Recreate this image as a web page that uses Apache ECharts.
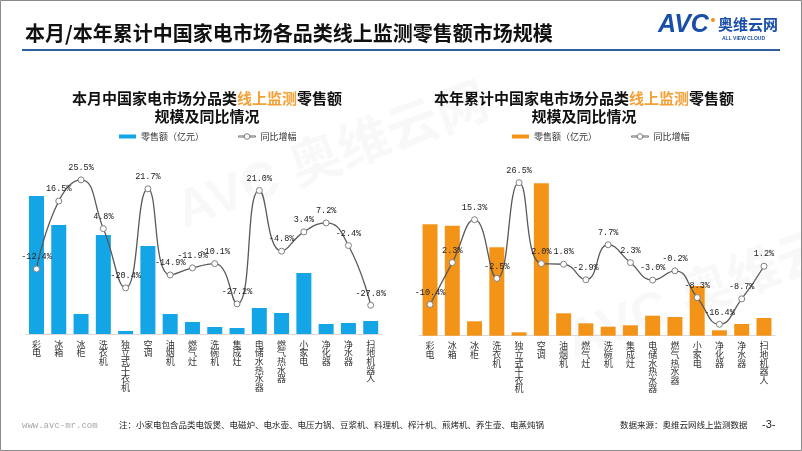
<!DOCTYPE html>
<html><head><meta charset="utf-8">
<script src="https://cdn.jsdelivr.net/npm/echarts@6/dist/echarts.min.js"></script>
<style>html,body{margin:0;padding:0;background:#fff}#c{width:802px;height:451px}</style>
</head><body><div id="c"></div>
<script>
const categories = ['彩电','冰箱','冰柜','洗衣机','独立式干衣机','空调','油烟机','燃气灶','洗碗机','集成灶','电储水热水器','燃气热水器','小家电','净化器','净水器','扫地机器人'];
const monthSales = [69, 54.5, 10, 49.5, 1.5, 44, 10, 6, 3.5, 3, 13, 10.5, 30.5, 5, 5.5, 6.5];
const monthYoY = [-12.4, 16.5, 25.5, 4.8, -20.4, 21.7, -14.9, -11.9, -10.1, -27.2, 21.0, -4.8, 3.4, 7.2, -2.4, -27.8];
const ytdSales = [222.8, 220, 28.8, 176.8, 6.8, 304.8, 44.8, 24.8, 18, 20.8, 40, 37.4, 99.4, 10.8, 23.4, 35.4];
const ytdYoY = [-10.4, 2.3, 15.3, -2.5, 26.5, 2.0, 1.8, -2.9, 7.7, 2.3, -3.0, -0.2, -8.3, -16.4, -8.7, 1.2];
const salesName = '零售额（亿元）';
const yoyName = '同比增幅';

const chart = echarts.init(document.getElementById('c'), null, {renderer:'canvas'});
const CJK = '"Noto Sans CJK SC", "Noto Sans", sans-serif';
const MONO = '"Liberation Mono", "DejaVu Sans Mono", monospace';

function xAxis(gi){
  return {type:'category', gridIndex:gi, data:categories,
    axisLine:{show:true, lineStyle:{color:'#d9d9d9', width:1}},
    axisTick:{show:false},
    axisLabel:{interval:0, margin:6, color:'#333', fontFamily:CJK, fontSize:9, lineHeight:8.6, verticalAlign:'top',
      formatter:v=>v.split('').join('\n')}};
}
function yAxis(gi, min, max){
  return {type:'value', gridIndex:gi, min:min, max:max, show:false, splitLine:{show:false}};
}
function lineSeries(xi, yi, data){
  return {type:'line', name:yoyName, xAxisIndex:xi, yAxisIndex:yi, data:data, smooth:0.5,
    symbol:'circle', symbolSize:6, z:5,
    lineStyle:{color:'#595959', width:1.3},
    itemStyle:{color:'#fff', borderColor:'#7f7f7f', borderWidth:1},
    label:{show:true, position:'top', distance:4, color:'#222', fontFamily:MONO, fontSize:8.5,
      formatter:p=>p.value.toFixed(1)+'%'}};
}
function barSeries(xi, yi, data, color){
  return {type:'bar', name:salesName, xAxisIndex:xi, yAxisIndex:yi, data:data, barWidth:15,
    itemStyle:{color:color}};
}
function subtitle(left, text1, hl){
  return {text:text1+'{o|'+hl+'}零售额\n规模及同比情况', left:left, top:84, textAlign:'center',
    textStyle:{fontFamily:CJK, fontSize:15, fontWeight:'bold', color:'#111', lineHeight:18, align:'center',
      rich:{o:{fontFamily:CJK, fontSize:15, fontWeight:'bold', color:'#f5a034'}}}};
}
const lineIcon = 'path://M0,5.4h5.5v1.2h-5.5z M11.5,5.4h5.5v1.2h-5.5z M8.5,3.2a2.8,2.8 0 1,0 0.001,0z';
function legend(left, color){
  return {left:left, top:127, itemGap:34, itemWidth:17, itemHeight:12,
    textStyle:{fontFamily:CJK, fontSize:9, color:'#333'},
    data:[{name:salesName, icon:'path://M0,4h17v4h-17z', itemStyle:{color:color}},
          {name:yoyName, icon:lineIcon, itemStyle:{color:'#fff', borderColor:'#7f7f7f', borderWidth:1}}],
    selectedMode:false};
}

const option = {
  animation:false,
  title:[
    {text:'本月/本年累计中国家电市场各品类线上监测零售额市场规模', left:20, top:18,
      textStyle:{fontFamily:CJK, fontSize:20, fontWeight:'bold', color:'#111'}},
    subtitle(202, '本月中国家电市场分品类', '线上监测'),
    subtitle(579, '本年累计中国家电市场分品类', '线上监测')
  ],
  legend:[legend(114,'#13a5e6'), legend(507,'#f39418')],
  grid:[
    {left:25.35, width:356.5, top:170, height:164},
    {left:418.9, width:356.2, top:170, height:165.7}
  ],
  xAxis:[xAxis(0), xAxis(1)],
  yAxis:[yAxis(0,0,82), yAxis(0,-40,29.7), yAxis(1,0,331.4), yAxis(1,-19.85,30.35)],
  series:[
    barSeries(0,0,monthSales,'#13a5e6'),
    lineSeries(0,1,monthYoY),
    barSeries(1,2,ytdSales,'#f39418'),
    lineSeries(1,3,ytdYoY)
  ],
  graphic:[
    {type:'rect', shape:{x:0.5,y:0.5,width:801,height:450}, style:{fill:'none', stroke:'#8a8a8a', lineWidth:1}, silent:true},
    {type:'line', shape:{x1:22,y1:50,x2:780,y2:50}, style:{stroke:'#2f5f9e', lineWidth:2}},
    {type:'text', left:658, top:13, style:{text:'AVC', font:'italic bold 25px "Liberation Sans", sans-serif', fill:'#1a4fa8'}},
    {type:'circle', shape:{cx:713, cy:20, r:2}, style:{fill:'#f39418'}},
    {type:'text', left:718, top:17, style:{text:'奥维云网', font:'bold 15px "Noto Sans CJK SC"', fill:'#1a4fa8'}},
    {type:'text', left:722, top:36, style:{text:'ALL VIEW CLOUD', font:'bold 5px "Liberation Sans"', fill:'#1a4fa8'}},
    // watermarks
    {type:'text', x:170, y:190, rotation:0.35, z:-10, style:{text:'AVC 奥维云网', font:'bold 52px "Liberation Sans", "Noto Sans CJK SC"', fill:'rgba(0,0,0,0.028)'}},
    {type:'text', x:560, y:320, rotation:0.35, z:-10, style:{text:'AVC 奥维云网', font:'bold 52px "Liberation Sans", "Noto Sans CJK SC"', fill:'rgba(0,0,0,0.028)'}},
    // footer
    {type:'text', left:22, top:421, style:{text:'www.avc-mr.com', font:'9px '+MONO, fill:'#a6a6a6'}},
    {type:'text', left:119, top:421, style:{text:'注：小家电包含品类电饭煲、电磁炉、电水壶、电压力锅、豆浆机、料理机、榨汁机、煎烤机、养生壶、电蒸炖锅', font:'8.5px "Noto Sans CJK SC"', fill:'#222'}},
    {type:'text', left:620, top:421, style:{text:'数据来源：奥维云网线上监测数据', font:'8.5px "Noto Sans CJK SC"', fill:'#222'}},
    {type:'text', left:762, top:419, style:{text:'-3-', font:'11px "Liberation Sans"', fill:'#222'}}
  ]
};
chart.setOption(option);
</script></body></html>
